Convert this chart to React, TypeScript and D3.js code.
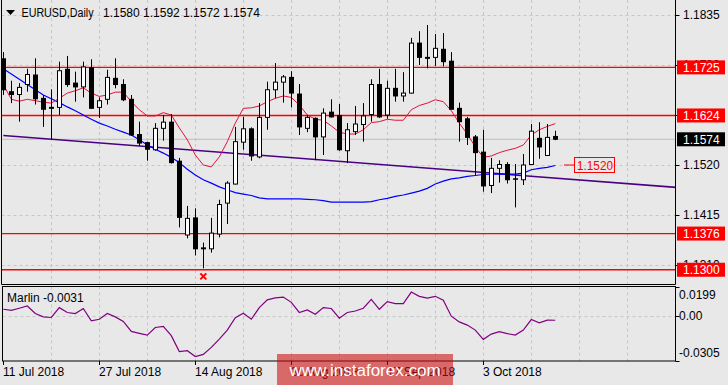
import React from 'react';
import * as d3 from 'd3';

const symbolTitle = 'EURUSD,Daily';
const headerPrices = '1.1580 1.1592 1.1572 1.1574';
const indicatorTitle = 'Marlin -0.0031';

const opens = [1.1743,1.1674,1.1668,1.1689,1.1709,1.1660,1.1641,1.1641,1.1721,1.1692,1.1684,1.1724,1.1641,1.1658,1.1702,1.1689,1.1658,1.1584,1.1567,1.1552,1.1597,1.1610,1.1528,1.1373,1.1409,1.1346,1.1344,1.1375,1.1440,1.1480,1.1568,1.1596,1.1537,1.1620,1.1678,1.1694,1.1704,1.1669,1.1597,1.1618,1.1579,1.1631,1.1624,1.1550,1.1590,1.1605,1.1626,1.1689,1.1625,1.1681,1.1665,1.1671,1.1776,1.1746,1.1746,1.1763,1.1738,1.1639,1.1617,1.1579,1.1547,1.1477,1.1513,1.1521,1.1491,1.1489,1.1521,1.1576,1.1540,1.1580];
const highs = [1.1757,1.1697,1.1692,1.1722,1.1744,1.1667,1.1679,1.1737,1.1749,1.1716,1.1737,1.1742,1.1662,1.1720,1.1744,1.1700,1.1667,1.1611,1.1569,1.1608,1.1625,1.1627,1.1535,1.1434,1.1429,1.1357,1.1409,1.1447,1.1486,1.1600,1.1621,1.1599,1.1650,1.1695,1.1734,1.1709,1.1717,1.1690,1.1625,1.1620,1.1639,1.1658,1.1648,1.1608,1.1644,1.1650,1.1700,1.1722,1.1697,1.1722,1.1715,1.1787,1.1801,1.1814,1.1795,1.1797,1.1757,1.1651,1.1621,1.1583,1.1594,1.1535,1.1530,1.1526,1.1522,1.1543,1.1606,1.1610,1.1606,1.1592];
const lows = [1.1667,1.1650,1.1611,1.1674,1.1647,1.1600,1.1574,1.1625,1.1684,1.1653,1.1662,1.1638,1.1619,1.1647,1.1681,1.1654,1.1581,1.1560,1.1529,1.1550,1.1571,1.1523,1.1389,1.1366,1.1330,1.1303,1.1336,1.1368,1.1396,1.1479,1.1552,1.1529,1.1534,1.1594,1.1660,1.1651,1.1641,1.1583,1.1589,1.1530,1.1541,1.1620,1.1550,1.1524,1.1583,1.1569,1.1611,1.1619,1.1617,1.1653,1.1653,1.1670,1.1730,1.1723,1.1728,1.1727,1.1637,1.1569,1.1562,1.1499,1.1464,1.1461,1.1483,1.1481,1.1431,1.1478,1.1521,1.1533,1.1540,1.1572];
const closes = [1.1678,1.1668,1.1683,1.1710,1.1659,1.1637,1.1639,1.1718,1.1689,1.1684,1.1726,1.1639,1.1655,1.1704,1.1689,1.1657,1.1583,1.1566,1.1553,1.1597,1.1610,1.1525,1.1410,1.1408,1.1344,1.1344,1.1377,1.1437,1.1482,1.1569,1.1596,1.1539,1.1620,1.1678,1.1694,1.1705,1.1671,1.1600,1.1620,1.1579,1.1629,1.1621,1.1552,1.1594,1.1606,1.1623,1.1689,1.1621,1.1681,1.1665,1.1671,1.1776,1.1746,1.1744,1.1765,1.1737,1.1637,1.1611,1.1578,1.1546,1.1476,1.1513,1.1521,1.1489,1.1490,1.1520,1.1591,1.1558,1.1578,1.1574];

const fastMA = [1.1689,1.1658,1.1654,1.1658,1.1655,1.1652,1.1650,1.1660,1.1671,1.1676,1.1682,1.1671,1.1664,1.1667,1.1673,1.1673,1.1653,1.1636,1.1623,1.1623,1.1630,1.1625,1.1598,1.1573,1.1541,1.1520,1.1516,1.1537,1.1569,1.1608,1.1639,1.1640,1.1644,1.1653,1.1660,1.1665,1.1662,1.1646,1.1625,1.1616,1.1614,1.1602,1.1589,1.1585,1.1585,1.1594,1.1609,1.1611,1.1616,1.1614,1.1614,1.1636,1.1645,1.1650,1.1657,1.1653,1.1634,1.1608,1.1585,1.1558,1.1536,1.1539,1.1546,1.1551,1.1555,1.1562,1.1583,1.1594,1.1601,1.1607];
const slowMA = [1.1722,1.1711,1.1700,1.1689,1.1678,1.1667,1.1659,1.1651,1.1642,1.1634,1.1625,1.1616,1.1608,1.1602,1.1595,1.1589,1.1583,1.1573,1.1562,1.1553,1.1545,1.1536,1.1525,1.1511,1.1499,1.1489,1.1482,1.1474,1.1468,1.1462,1.1459,1.1456,1.1451,1.1449,1.1449,1.1449,1.1449,1.1449,1.1448,1.1447,1.1445,1.1442,1.1442,1.1442,1.1442,1.1442,1.1443,1.1447,1.1450,1.1454,1.1457,1.1461,1.1465,1.1471,1.1480,1.1486,1.1491,1.1493,1.1496,1.1498,1.1500,1.1501,1.1501,1.1501,1.1501,1.1503,1.1510,1.1513,1.1515,1.1519];
const marlin = [0.0044,0.0037,0.0051,0.0066,0.0015,-0.0008,-0.0012,0.0055,0.0022,0.0015,0.0049,-0.0035,-0.0024,0.0015,-0.0008,-0.0039,-0.0107,-0.0120,-0.0132,-0.0080,-0.0073,-0.0136,-0.0244,-0.0238,-0.0278,-0.0263,-0.0216,-0.0159,-0.0098,-0.0014,0.0017,-0.0024,0.0055,0.0108,0.0121,0.0127,0.0091,0.0022,0.0039,0.0010,0.0055,0.0049,-0.0017,0.0022,0.0032,0.0051,0.0111,0.0044,0.0096,0.0082,0.0082,0.0161,0.0132,0.0120,0.0132,0.0105,-0.0003,-0.0042,-0.0064,-0.0098,-0.0161,-0.0125,-0.0109,-0.0122,-0.0132,-0.0098,-0.0026,-0.0049,-0.0030,-0.0031];

const trendIndex = [0, 84.1];
const trendPrice = [1.1582, 1.1473];
const priceTicks = [1.1835, 1.1730, 1.1625, 1.1520, 1.1415, 1.1310];
const levelPrices = [1.1725, 1.1624, 1.1376, 1.1300];
const lastPrice = 1.1574;
const maTagPrice = 1.1520;
const lowMarkIndex = 25;
const dateIndex = [0, 12, 24, 36, 48, 60];
const dateLabels = ['11 Jul 2018', '27 Jul 2018', '14 Aug 2018', '30 Aug 2018', '17 Sep 2018', '3 Oct 2018'];
const marlinTicks = [0.0199, 0, -0.0305];
const marlinTickLabels = ['0.0199', '0.00', '-0.0305'];

const FONT = '"Liberation Sans", Arial, sans-serif';
const BG = '#e8e8e8';
const GRID = '#c6c6c6';

export default function App() {
  const W = 728, H = 385;
  const left = 1.5, right = 675.5, mainBottom = 284.5;
  const mTop = 286.5, mBottom = 361;
  const n = opens.length;
  const x = d3.scaleLinear().domain([0, n - 1]).range([3.3, 555.3]);
  const y = d3.scaleLinear().domain([1.1310, 1.1835]).range([265, 15]);
  const ym = d3.scaleLinear().domain([-0.0305, 0.0199]).range([360.5, 286.5]);
  const px = (i: number) => Math.round(x(i));

  const lineMain = d3.line<number>().x((_, i) => x(i)).y((d) => y(d));
  const lineMarlin = d3.line<number>().x((_, i) => x(i)).y((d) => ym(d));
  const trendLine = d3.line<number>().x((d) => x(d)).y((_, i) => y(trendPrice[i]));

  const gridIdx = d3.range(6, 85, 6);

  return (
    <div style={{ position: 'absolute', left: 0, top: 0 }}>
      <svg width={W} height={H} style={{ display: 'block', fontFamily: FONT }}>
        <defs>
          <clipPath id="mainClip"><rect x={left} y={0} width={right - left} height={mainBottom} /></clipPath>
        </defs>
        <rect x={0} y={0} width={W} height={H} fill={BG} />

        {/* main grid */}
        {gridIdx.filter((i) => x(i) < right - 2).map((i) => (
          <line key={'gv' + i} x1={px(i) + 0.5} x2={px(i) + 0.5} y1={0} y2={mainBottom} stroke={GRID} strokeDasharray="3,3" />
        ))}
        {priceTicks.map((p) => (
          <line key={'gh' + p} x1={left} x2={right} y1={Math.round(y(p)) + 0.5} y2={Math.round(y(p)) + 0.5} stroke={GRID} strokeDasharray="3,3" />
        ))}

        {/* level lines */}
        <line x1={left} x2={right} y1={y(lastPrice)} y2={y(lastPrice)} stroke="#bdbdbd" strokeWidth={1} />
        {levelPrices.map((p) => (
          <line key={'lv' + p} x1={left} x2={right} y1={y(p)} y2={y(p)} stroke="#ff0000" strokeWidth={1.3} />
        ))}

        <g clipPath="url(#mainClip)">
          <path d={trendLine(trendIndex) || ''} fill="none" stroke="#4b0082" strokeWidth={1.5} />
          <path d={lineMain(slowMA) || ''} fill="none" stroke="#0000ff" strokeWidth={1.2} />
          <path d={lineMain(fastMA) || ''} fill="none" stroke="#dc143c" strokeWidth={1} />
        </g>

        {/* candles */}
        {opens.map((o, i) => {
          const c = closes[i];
          const cx = px(i);
          const top = y(Math.max(o, c));
          const bot = y(Math.min(o, c));
          const bull = c > o;
          return (
            <g key={'c' + i}>
              <line x1={cx + 0.5} x2={cx + 0.5} y1={y(highs[i])} y2={y(lows[i])} stroke="#000" strokeWidth={1} />
              {bull ? (
                <rect x={cx - 1.5} y={top} width={4} height={Math.max(1, bot - top)} fill="#fff" stroke="#000" strokeWidth={1} />
              ) : (
                <rect x={cx - 2} y={top - 0.5} width={5} height={Math.max(1.5, bot - top + 1)} fill="#000" />
              )}
            </g>
          );
        })}

        {/* low marker */}
        <g transform={`translate(${x(lowMarkIndex)},${y(lows[lowMarkIndex]) + 8})`}>
          <path d="M-3,-3L3,3M3,-3L-3,3" stroke="#ff0000" strokeWidth={2} />
        </g>

        {/* MA tag */}
        <line x1={564} x2={574.5} y1={y(maTagPrice)} y2={y(maTagPrice)} stroke="#ff0000" strokeWidth={1} />
        <rect x={574.5} y={y(maTagPrice) - 7.5} width={40} height={15} fill="none" stroke="#ff0000" strokeWidth={1} />
        <text x={577} y={y(maTagPrice)} dy="0.36em" fontSize={13} fill="#ff0000" textLength={36} lengthAdjust="spacingAndGlyphs">{maTagPrice.toFixed(4)}</text>

        {/* main frame */}
        <line x1={left} x2={left} y1={0} y2={mainBottom} stroke="#000" />
        <line x1={right} x2={right} y1={0} y2={mainBottom} stroke="#000" />
        <line x1={left} x2={right} y1={mainBottom} y2={mainBottom} stroke="#000" />

        {/* price axis */}
        {priceTicks.map((p) => (
          <g key={'pt' + p}>
            <line x1={right} x2={right + 4} y1={Math.round(y(p)) + 0.5} y2={Math.round(y(p)) + 0.5} stroke="#000" />
            <text x={683} y={y(p)} dy="0.36em" fontSize={12} fill="#000">{p.toFixed(4)}</text>
          </g>
        ))}
        {levelPrices.map((p) => (
          <g key={'lb' + p}>
            <rect x={677} y={y(p) - 7} width={48} height={14} fill="#ff0000" />
            <text x={683} y={y(p)} dy="0.36em" fontSize={12} fill="#fff">{p.toFixed(4)}</text>
          </g>
        ))}
        <rect x={677} y={y(lastPrice) - 7} width={48} height={14} fill="#000" />
        <text x={683} y={y(lastPrice)} dy="0.36em" fontSize={12} fill="#fff">{lastPrice.toFixed(4)}</text>

        {/* header */}
        <path d="M6,10L15,10L10.5,15Z" fill="#000" />
        <text x={21.5} y={13} dy="0.36em" fontSize={12} fill="#000" textLength={72} lengthAdjust="spacingAndGlyphs">{symbolTitle}</text>
        <text x={103} y={13} dy="0.36em" fontSize={12} fill="#000">{headerPrices}</text>

        {/* marlin panel */}
        {gridIdx.filter((i) => x(i) < right - 2).map((i) => (
          <line key={'mv' + i} x1={px(i) + 0.5} x2={px(i) + 0.5} y1={mTop} y2={mBottom} stroke={GRID} strokeDasharray="3,3" />
        ))}
        <line x1={2.5} x2={right} y1={Math.round(ym(0)) + 0.5} y2={Math.round(ym(0)) + 0.5} stroke={GRID} strokeDasharray="3,3" />
        <path d={lineMarlin(marlin) || ''} fill="none" stroke="#800080" strokeWidth={1.2} />
        <rect x={2.5} y={mTop} width={right - 2.5} height={mBottom - mTop} fill="none" stroke="#000" />
        <text x={7} y={298} dy="0.36em" fontSize={12} fill="#000">{indicatorTitle}</text>
        {marlinTicks.map((v, k) => {
          const yy = k === 0 ? ym(v) + 8.5 : k === 2 ? ym(v) - 7.5 : ym(v);
          return (
            <g key={'mt' + k}>
              <line x1={right} x2={right + 4} y1={Math.round(ym(v)) + 0.5} y2={Math.round(ym(v)) + 0.5} stroke="#000" />
              <text x={679} y={yy} dy="0.36em" fontSize={12} fill="#000">{marlinTickLabels[k]}</text>
            </g>
          );
        })}

        {/* time axis */}
        {dateIndex.map((d, k) => (
          <g key={'dt' + k}>
            <line x1={px(d) + 0.5} x2={px(d) + 0.5} y1={mBottom} y2={mBottom + 4} stroke="#000" />
            <text x={px(d)} y={372} dy="0.36em" fontSize={12} fill="#000">{dateLabels[k]}</text>
          </g>
        ))}

        {/* watermark */}
        <rect x={277} y={354} width={176} height={31} fill="rgb(206,12,12)" fillOpacity={0.58} />
        <text x={365} y={370} dy="0.36em" textAnchor="middle" fontSize={17} fill="#fff">www.instaforex.com</text>
      </svg>
    </div>
  );
}
